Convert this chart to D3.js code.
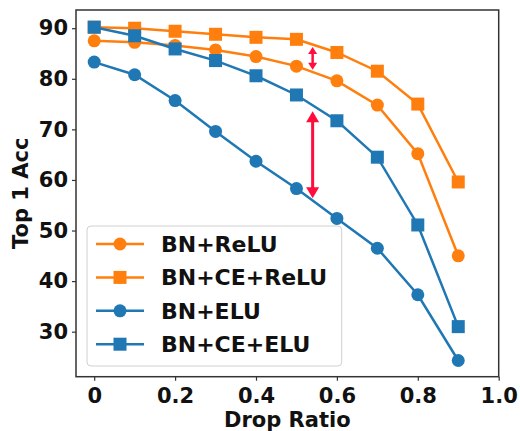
<!DOCTYPE html>
<html>
<head>
<meta charset="utf-8">
<script src="https://cdn.jsdelivr.net/npm/d3@7"></script>
<style>
    html, body { margin: 0; padding: 0; background: #fff; }
    svg text { font-family: "DejaVu Sans", sans-serif; font-weight: bold; fill: #111; }
</style>
</head>
<body>
<div id="chart"></div>
<script>
'use strict';

// Drop ratios on the x axis.
var dropRatios = [0, 0.1, 0.2, 0.3, 0.4, 0.5, 0.6, 0.7, 0.8, 0.9];

// Top 1 accuracy per series.
var bnRelu   = [87.5, 87.2, 86.6, 85.7, 84.4, 82.5, 79.6, 74.8, 65.2, 45.0];
var bnCeRelu = [90.2, 90.0, 89.4, 88.8, 88.2, 87.8, 85.2, 81.5, 75.0, 59.6];
var bnElu    = [83.3, 80.8, 75.7, 69.6, 63.7, 58.3, 52.4, 46.5, 37.3, 24.3];
var bnCeElu  = [90.2, 88.5, 85.9, 83.6, 80.6, 76.8, 71.7, 64.5, 51.1, 31.0];

var seriesNames = ['BN+ReLU', 'BN+CE+ReLU', 'BN+ELU', 'BN+CE+ELU'];

var xTicks = [0, 0.2, 0.4, 0.6, 0.8, 1.0];
var xTickLabels = ['0', '0.2', '0.4', '0.6', '0.8', '1.0'];
var yTicks = [30, 40, 50, 60, 70, 80, 90];

// Double arrows: [x, from, to]
var arrowSmall = [0.54, 86.3, 81.8];
var arrowBig   = [0.54, 73.6, 56.4];

var width  = 520,
    height = 431,
    orange = '#ff7f0e',
    blue   = '#1f77b4',
    red    = '#ff0d3d';

var series = [
    {name: seriesNames[0], values: bnRelu,   color: orange, marker: 'circle'},
    {name: seriesNames[1], values: bnCeRelu, color: orange, marker: 'square'},
    {name: seriesNames[2], values: bnElu,    color: blue,   marker: 'circle'},
    {name: seriesNames[3], values: bnCeElu,  color: blue,   marker: 'square'}
];

var svg = d3.select('#chart').append('svg')
    .attr('width', width)
    .attr('height', height);

var x = d3.scaleLinear().domain([-0.045, 1.0]).range([76, 498.7]);
var y = d3.scaleLinear().domain([21.1, 93.6]).range([376.7, 10]);

// Axes.
svg.append('g')
    .attr('class', 'axis x')
    .attr('transform', 'translate(0,' + y.range()[0] + ')')
    .call(d3.axisBottom(x).tickValues(xTicks).tickSize(4).tickPadding(7)
        .tickFormat(function (d, i) { return xTickLabels[i]; }));

svg.append('g')
    .attr('class', 'axis y')
    .attr('transform', 'translate(' + x.range()[0] + ',0)')
    .call(d3.axisLeft(y).tickValues(yTicks).tickSize(4).tickPadding(4));

svg.selectAll('.axis path').remove();
svg.selectAll('.axis line').attr('stroke', '#333').attr('stroke-width', 1.2);
svg.selectAll('.axis text').style('font-size', '21px').attr('fill', '#111');
svg.selectAll('.axis.x text').attr('dy', '0.71em');

// Frame.
svg.append('rect')
    .attr('x', x.range()[0])
    .attr('y', y.range()[1])
    .attr('width', x.range()[1] - x.range()[0])
    .attr('height', y.range()[0] - y.range()[1])
    .attr('fill', 'none')
    .attr('stroke', '#333')
    .attr('stroke-width', 1.5);

// Axis labels.
svg.append('text')
    .attr('x', (x.range()[0] + x.range()[1]) / 2)
    .attr('y', 427)
    .attr('text-anchor', 'middle')
    .style('font-size', '21px')
    .text('Drop Ratio');

svg.append('text')
    .attr('transform', 'translate(28,' + ((y.range()[0] + y.range()[1]) / 2) + ') rotate(-90)')
    .attr('text-anchor', 'middle')
    .style('font-size', '21px')
    .text('Top 1 Acc');

var line = d3.line()
    .x(function (d, i) { return x(dropRatios[i]); })
    .y(function (d) { return y(d); });

function drawMarker(g, kind, cx, cy, color) {
    if (kind === 'circle') {
        g.append('circle').attr('cx', cx).attr('cy', cy).attr('r', 6.5).attr('fill', color);
    } else {
        g.append('rect').attr('x', cx - 6.5).attr('y', cy - 6.5)
            .attr('width', 13).attr('height', 13).attr('fill', color);
    }
}

// Draw the series.
series.forEach(function (s) {
    var g = svg.append('g');

    g.append('path')
        .datum(s.values)
        .attr('d', line)
        .attr('fill', 'none')
        .attr('stroke', s.color)
        .attr('stroke-width', 2.5);

    s.values.forEach(function (v, i) {
        drawMarker(g, s.marker, x(dropRatios[i]), y(v), s.color);
    });
});

// Red double arrows.
function doubleArrow(a, headW, headL, lineW) {
    var ax = x(a[0]), y1 = y(a[1]), y2 = y(a[2]), g = svg.append('g');

    g.append('line')
        .attr('x1', ax).attr('x2', ax)
        .attr('y1', y1 + headL * 0.8).attr('y2', y2 - headL * 0.8)
        .attr('stroke', red).attr('stroke-width', lineW);

    g.append('path')
        .attr('d', 'M' + ax + ',' + y1 + 'L' + (ax - headW / 2) + ',' + (y1 + headL) + 'L' + (ax + headW / 2) + ',' + (y1 + headL) + 'Z')
        .attr('fill', red);

    g.append('path')
        .attr('d', 'M' + ax + ',' + y2 + 'L' + (ax - headW / 2) + ',' + (y2 - headL) + 'L' + (ax + headW / 2) + ',' + (y2 - headL) + 'Z')
        .attr('fill', red);
}

doubleArrow(arrowSmall, 9, 7, 2.5);
doubleArrow(arrowBig, 13, 11, 3);

// Legend.
var legend = svg.append('g').attr('class', 'legend');

legend.append('rect')
    .attr('x', 87).attr('y', 226)
    .attr('width', 254.7).attr('height', 140)
    .attr('rx', 4)
    .attr('fill', 'rgba(255,255,255,0.8)')
    .attr('stroke', '#d0d0d0')
    .attr('stroke-width', 1);

series.forEach(function (s, i) {
    var ry = 244 + i * 33.4,
        row = legend.append('g');

    row.append('line')
        .attr('x1', 96).attr('x2', 144)
        .attr('y1', ry).attr('y2', ry)
        .attr('stroke', s.color).attr('stroke-width', 2.5);

    drawMarker(row, s.marker, 120, ry, s.color);

    row.append('text')
        .attr('x', 161)
        .attr('y', ry + 8)
        .style('font-size', '22px')
        .text(s.name);
});
</script>
</body>
</html>
